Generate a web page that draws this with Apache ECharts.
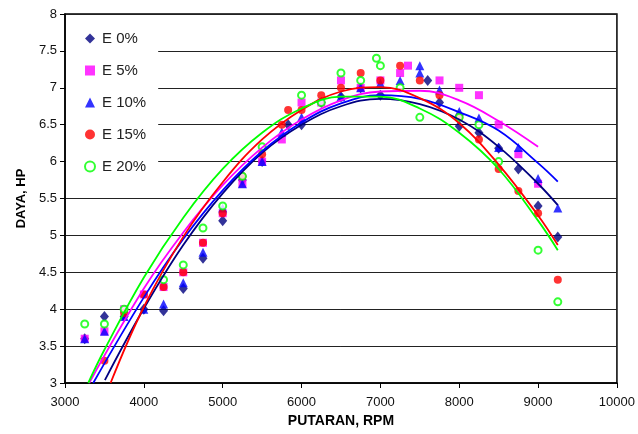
<!DOCTYPE html>
<html>
<head>
<meta charset="utf-8">
<script src="https://cdn.jsdelivr.net/npm/echarts@6/dist/echarts.min.js"></script>
<style>
html,body{margin:0;padding:0;background:#fff;}
#chart{width:638px;height:434px;}
</style>
</head>
<body>
<div id="chart"></div>
<script>
// Scatter data [rpm, hp]
var seriesNames = ['E 0%', 'E 5%', 'E 10%', 'E 15%', 'E 20%'];
var e0Points = [[3250,3.6],[3500,3.9],[3750,3.9],[4000,4.0],[4250,3.98],[4500,4.28],[4750,4.69],[5000,5.2],[5250,5.75],[5500,6.0],[5830,6.5],[6000,6.5],[6250,6.8],[6500,6.88],[6750,7.0],[7000,6.9],[7600,7.1],[7750,6.8],[8000,6.48],[8250,6.39],[8500,6.18],[8750,5.9],[9000,5.4],[9250,4.98]];
var e5Points = [[3250,3.6],[3500,3.7],[3750,4.0],[4000,4.2],[4250,4.3],[4500,4.5],[4750,4.9],[5000,5.3],[5250,5.7],[5500,6.0],[5750,6.3],[6000,6.8],[6250,6.8],[6500,7.1],[6750,7.0],[7000,7.1],[7250,7.2],[7350,7.3],[7750,7.1],[8000,7.0],[8250,6.9],[8500,6.5],[8750,6.1],[9000,5.7]];
var e10Points = [[3250,3.6],[3500,3.7],[3750,3.9],[4000,4.0],[4250,4.07],[4500,4.36],[4750,4.77],[5000,5.37],[5250,5.7],[5500,6.0],[5750,6.4],[6000,6.6],[6500,6.88],[6750,7.0],[7000,7.06],[7250,7.1],[7500,7.3],[7500,7.2],[7750,6.97],[8000,6.68],[8250,6.59],[8500,6.19],[8750,6.19],[9000,5.77],[9250,5.37]];
var e15Points = [[3500,3.3],[3750,3.95],[4000,4.2],[4250,4.3],[4500,4.5],[4750,4.9],[5000,5.3],[5250,5.8],[5500,6.1],[5750,6.5],[5830,6.7],[6000,6.7],[6250,6.9],[6500,7.0],[6750,7.2],[7000,7.1],[7250,7.3],[7500,7.1],[7750,6.9],[8000,6.6],[8250,6.3],[8500,5.9],[8750,5.6],[9000,5.3],[9250,4.4]];
var e20Points = [[3250,3.8],[3500,3.8],[3750,4.0],[4250,4.4],[4500,4.6],[4750,5.1],[5000,5.4],[5250,5.8],[5500,6.2],[6000,6.9],[6250,6.8],[6500,7.2],[6750,7.1],[6950,7.4],[7000,7.3],[7250,7.0],[7500,6.6],[8000,6.6],[8250,6.5],[8500,6.0],[9000,4.8],[9250,4.1]];

// Trendline points [rpm, hp]
var e0Trend = [[3506,3.04],[4000,4.01],[4500,4.87],[5000,5.57],[5500,6.12],[6000,6.5],[6500,6.75],[7000,6.85],[7500,6.78],[8000,6.57],[8500,6.2],[9000,5.7],[9250,5.41]];
var e5Trend = [[3307,3.0],[4000,4.28],[4500,5.04],[5000,5.68],[5500,6.19],[6000,6.57],[6500,6.83],[7000,6.95],[7500,6.96],[8000,6.83],[8500,6.55],[9000,6.2]];
var e10Trend = [[3358,3.0],[4000,4.16],[4500,4.95],[5000,5.61],[5500,6.14],[6000,6.53],[6500,6.79],[7000,6.9],[7500,6.85],[8000,6.67],[8500,6.42],[9000,5.98],[9250,5.73]];
var e15Trend = [[3578,3.0],[4000,4.03],[4500,4.98],[5000,5.72],[5500,6.3],[6000,6.7],[6500,6.95],[7000,7.01],[7500,6.86],[8000,6.52],[8500,5.96],[9000,5.27],[9250,4.87]];
var e20Trend = [[3295,3.0],[3500,3.45],[4000,4.43],[4500,5.24],[5000,5.9],[5500,6.39],[6000,6.72],[6500,6.88],[7000,6.88],[7500,6.72],[8000,6.39],[8500,5.9],[9000,5.2],[9250,4.8]];

var xTicks = {min: 3000, max: 10000, interval: 1000};
var yTicks = {min: 3, max: 8, interval: 0.5};

var colors = ['#000080', '#FF00FF', '#0000FF', '#FF0000', '#00FF00'];
var symbols = ['diamond', 'rect', 'triangle', 'circle', 'emptyCircle'];
var sizes = [[9,11], 8, [9,9], 8, 7];
var pts = [e0Points, e5Points, e10Points, e15Points, e20Points];
var trends = [e0Trend, e5Trend, e10Trend, e15Trend, e20Trend];

var FONT = 'Liberation Sans, Arial, sans-serif';
var series = [];
for (var i = 0; i < 5; i++) {
  series.push({
    name: seriesNames[i], type: 'scatter', data: pts[i],
    symbol: symbols[i], symbolSize: sizes[i],
    itemStyle: i === 4 ? {color: colors[i], borderColor: colors[i], borderWidth: 1} : {color: colors[i]},
    z: 2 + i, animation: false
  });
}
for (var j = 0; j < 5; j++) {
  series.push({
    name: seriesNames[j] + ' trend', type: 'line', data: trends[j],
    smooth: 0.4, showSymbol: false, symbol: 'none',
    lineStyle: {color: colors[j], width: 1.8},
    z: 10 + j, animation: false, silent: true
  });
}

var chart = echarts.init(document.getElementById('chart'), null, {renderer: 'canvas'});
chart.setOption({
  animation: false,
  backgroundColor: '#fff',
  grid: {left: 65, right: 19, top: 14, bottom: 51, show: true, borderColor: '#000', borderWidth: 1.5, backgroundColor: 'transparent'},
  legend: {
    data: seriesNames, orient: 'vertical', left: 66, top: 15,
    padding: [16, 12, 22, 18], itemGap: 17, itemWidth: 10, itemHeight: 10,
    backgroundColor: '#fff',
    textStyle: {fontFamily: FONT, fontSize: 15, color: '#222', padding: [0,0,0,2]}
  },
  xAxis: {
    type: 'value', min: xTicks.min, max: xTicks.max, interval: xTicks.interval,
    name: 'PUTARAN, RPM', nameLocation: 'middle', nameGap: 30,
    nameTextStyle: {fontFamily: FONT, fontSize: 14, fontWeight: 'bold', color: '#000'},
    axisLine: {show: true, lineStyle: {color: '#000', width: 1.5}},
    axisTick: {show: true, inside: false, length: 5, lineStyle: {color: '#000'}},
    axisLabel: {fontFamily: FONT, fontSize: 13, color: '#111', margin: 13, formatter: function (v) { return String(v); }},
    splitLine: {show: false}
  },
  yAxis: {
    type: 'value', min: yTicks.min, max: yTicks.max, interval: yTicks.interval,
    name: 'DAYA, HP', nameLocation: 'middle', nameGap: 34,
    nameTextStyle: {fontFamily: FONT, fontSize: 13, fontWeight: 'bold', color: '#000'},
    axisLine: {show: true, lineStyle: {color: '#000', width: 1.5}},
    axisTick: {show: true, inside: false, length: 5, lineStyle: {color: '#000'}},
    axisLabel: {fontFamily: FONT, fontSize: 13, color: '#111', margin: 8, formatter: function (v) { return String(v); }},
    splitLine: {show: true, lineStyle: {color: '#222', width: 1}}
  },
  series: series
});
</script>
</body>
</html>
